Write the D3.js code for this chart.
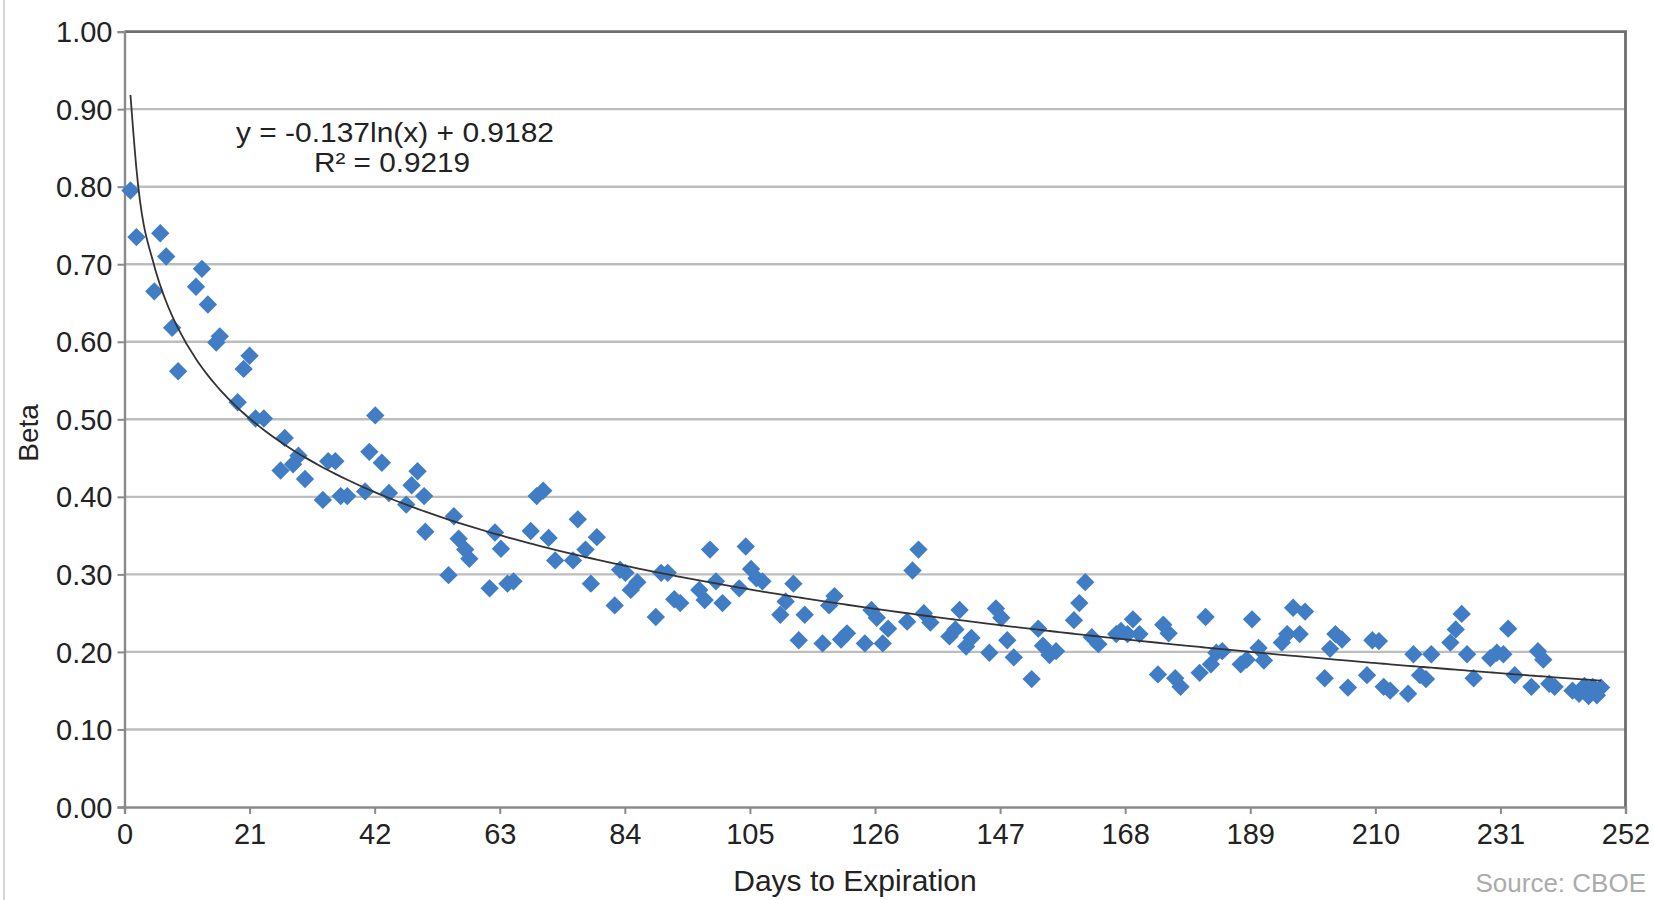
<!DOCTYPE html>
<html>
<head>
<meta charset="utf-8">
<script src="https://cdn.jsdelivr.net/npm/d3@7"></script>
<style>
    body { margin: 0; background: #fff; }
    text { font-family: "Liberation Sans", Arial, sans-serif; fill: #222; }
</style>
</head>
<body>
<svg id="chart" width="1654" height="900"></svg>
<script>
"use strict";

// days to expiration for each observation
var days = [
    1, 2, 5, 6, 7, 8, 9, 12, 13, 14, 15.4, 16, 19, 20, 21, 22, 23.4,
    26.2, 26.9, 28.3, 29.2, 30.3, 33.3, 34.2, 35.4, 36.3, 37.4, 40.4, 41.1, 42.1, 43.2, 44.4,
    47.3, 48.2, 49.2, 50.3, 50.5, 54.4, 55.3, 56.1, 57.2, 57.9, 61.3, 62.2, 63.2, 64.3, 65.3,
    68.2, 69.2, 70.3, 71.2, 72.3, 75.3, 76.1, 77.4, 78.3, 79.3, 82.3, 83.2, 84.1, 85, 86.1,
    89.2, 90.1, 91.2, 92.3, 93.3, 96.5, 97.4, 98.3, 99.3, 100.4, 103.2, 104.3, 105.2, 106.1, 107.1,
    110.1, 111, 112.3, 113.2, 114.2, 117.2, 118.3, 119.2, 120.3, 121.3, 124.3, 125.4, 126.3, 127.3, 128.2,
    131.4, 132.3, 133.3, 134.2, 135.3, 138.5, 139.5, 140.2, 141.3, 142.2, 145.2, 146.3, 147.2, 148.2, 149.3,
    152.3, 153.4, 154.2, 155.3, 156.4, 159.4, 160.3, 161.3, 162.4, 163.5, 166.5, 167.3, 168.4, 169.3, 170.4,
    173.5, 174.4, 175.3, 176.4, 177.3, 180.5, 181.5, 182.4, 183.3, 184.3, 187.4, 188.4, 189.3, 190.4, 191.3,
    194.3, 195.2, 196.2, 197.3, 198.2, 201.5, 202.4, 203.3, 204.4, 205.4, 208.6, 209.5, 210.6, 211.4, 212.5,
    215.5, 216.4, 217.5, 218.5, 219.4, 222.6, 223.5, 224.5, 225.4, 226.5, 229.3, 230.4, 231.5, 232.3, 233.4,
    236.2, 237.3, 238.2, 239.2, 240.1, 243.1, 244.2, 245.1, 245.8, 246.5, 247.2, 247.9
];

// beta observed at each of those days
var beta = [
    0.795, 0.735, 0.665, 0.740, 0.710, 0.618, 0.562, 0.671, 0.694, 0.648, 0.599, 0.607, 0.522, 0.565, 0.582, 0.501, 0.501,
    0.434, 0.476, 0.442, 0.453, 0.423, 0.396, 0.446, 0.446, 0.401, 0.401, 0.407, 0.458, 0.505, 0.444, 0.405,
    0.390, 0.415, 0.433, 0.401, 0.355, 0.299, 0.375, 0.346, 0.332, 0.320, 0.282, 0.354, 0.333, 0.288, 0.291,
    0.356, 0.401, 0.408, 0.347, 0.318, 0.318, 0.371, 0.332, 0.288, 0.348, 0.260, 0.306, 0.302, 0.280, 0.290,
    0.245, 0.302, 0.302, 0.268, 0.263, 0.280, 0.267, 0.332, 0.291, 0.263, 0.282, 0.336, 0.307, 0.295, 0.291,
    0.248, 0.265, 0.288, 0.215, 0.248, 0.211, 0.260, 0.272, 0.216, 0.224, 0.211, 0.254, 0.244, 0.211, 0.230,
    0.239, 0.305, 0.332, 0.250, 0.238, 0.220, 0.229, 0.254, 0.207, 0.218, 0.199, 0.256, 0.244, 0.215, 0.193,
    0.165, 0.230, 0.208, 0.196, 0.201, 0.241, 0.263, 0.290, 0.219, 0.210, 0.223, 0.227, 0.223, 0.242, 0.223,
    0.171, 0.235, 0.224, 0.166, 0.155, 0.173, 0.245, 0.184, 0.199, 0.201, 0.184, 0.190, 0.242, 0.205, 0.189,
    0.212, 0.223, 0.257, 0.223, 0.252, 0.166, 0.204, 0.223, 0.216, 0.154, 0.170, 0.215, 0.214, 0.155, 0.150,
    0.146, 0.197, 0.170, 0.165, 0.197, 0.212, 0.229, 0.249, 0.197, 0.166, 0.192, 0.199, 0.197, 0.230, 0.170,
    0.155, 0.201, 0.190, 0.159, 0.155, 0.150, 0.146, 0.156, 0.143, 0.155, 0.144, 0.154
];

var xTicks = [0, 21, 42, 63, 84, 105, 126, 147, 168, 189, 210, 231, 252];
var yTicks = [0, 0.1, 0.2, 0.3, 0.4, 0.5, 0.6, 0.7, 0.8, 0.9, 1.0];

// logarithmic trendline: y = a ln(x) + b
var trendA = -0.137;
var trendB = 0.9182;
var trendLabel = "y = -0.137ln(x) + 0.9182";
var r2Label = "R\u00b2 = 0.9219";

var svg = d3.select("#chart");
var margin = { left: 124.5, right: 28.5, top: 31.6, bottom: 93 };
var width = 1654 - margin.left - margin.right;
var height = 900 - margin.top - margin.bottom;

var x = d3.scaleLinear().domain([0, 252]).range([0, width]);
var y = d3.scaleLinear().domain([0, 1]).range([height, 0]);

// faint frame edge at the far left of the picture
svg.append("line")
    .attr("x1", 4).attr("x2", 4).attr("y1", 0).attr("y2", 900)
    .style("stroke", "#d8d8d8").style("stroke-width", 2);

var g = svg.append("g")
    .attr("transform", "translate(" + margin.left + "," + margin.top + ")");

// horizontal gridlines
g.append("g").selectAll("line")
    .data(yTicks.filter(function (d) { return d > 0 && d < 1; }))
    .enter().append("line")
    .attr("x1", 0).attr("x2", width)
    .attr("y1", function (d) { return y(d); })
    .attr("y2", function (d) { return y(d); })
    .style("stroke", "#bdbdbd").style("stroke-width", 2.4);

// top and right frame
g.append("path")
    .attr("d", "M0," + y(1) + "H" + x(252) + "V" + y(0))
    .style("fill", "none").style("stroke", "#6e6e6e").style("stroke-width", 2.8);

var yAxis = d3.axisLeft(y).tickValues(yTicks).tickSize(7).tickPadding(5)
    .tickFormat(d3.format(".2f"));
var gY = g.append("g").attr("class", "axis axis-y").call(yAxis);

var xAxis = d3.axisBottom(x).tickValues(xTicks).tickSize(7).tickPadding(9);
var gX = g.append("g").attr("class", "axis axis-x")
    .attr("transform", "translate(0," + height + ")")
    .call(xAxis);

[gX, gY].forEach(function (ax) {
    ax.select(".domain").style("stroke", "#8a8a8a").style("stroke-width", 2.4);
    ax.selectAll(".tick line").style("stroke", "#8a8a8a").style("stroke-width", 2);
    ax.selectAll(".tick text")
        .style("font-family", "'Liberation Sans', Arial, sans-serif")
        .style("font-size", "29px").style("fill", "#222");
});
gY.selectAll(".tick text").attr("dy", "0.35em");
gX.selectAll(".tick text").attr("dy", "0.72em");

// diamonds
var diamond = d3.symbol().type(d3.symbolDiamond2).size(215);
g.append("g").selectAll("path")
    .data(days.map(function (d, i) { return { day: d, value: beta[i] }; }))
    .enter().append("path")
    .attr("transform", function (d) {
        return "translate(" + x(d.day) + "," + y(d.value) + ")";
    })
    .attr("d", diamond)
    .style("fill", "#417dc4");

// trendline sampled over the observed day range
var line = d3.line()
    .x(function (d) { return x(d); })
    .y(function (d) { return y(trendA * Math.log(d) + trendB); })
    .curve(d3.curveMonotoneX);
g.append("path")
    .datum(days)
    .attr("d", line)
    .style("fill", "none").style("stroke", "#333").style("stroke-width", 1.8);

// equation labels (tightly stacked, as in the original)
svg.append("text")
    .attr("x", 395).attr("y", 142)
    .attr("text-anchor", "middle")
    .style("font-size", "28px")
    .attr("textLength", 318).attr("lengthAdjust", "spacingAndGlyphs")
    .text(trendLabel);
svg.append("text")
    .attr("x", 392).attr("y", 172)
    .attr("text-anchor", "middle")
    .style("font-size", "28px")
    .attr("textLength", 156).attr("lengthAdjust", "spacingAndGlyphs")
    .text(r2Label);

// axis titles
svg.append("text")
    .attr("x", 855)
    .attr("y", 891)
    .attr("text-anchor", "middle")
    .style("font-size", "30px")
    .text("Days to Expiration");
svg.append("text")
    .attr("transform", "translate(38,433) rotate(-90)")
    .attr("text-anchor", "middle")
    .style("font-size", "28px")
    .text("Beta");
svg.append("text")
    .attr("x", 1646).attr("y", 892)
    .attr("text-anchor", "end")
    .style("font-size", "26px")
    .style("fill", "#ababab")
    .text("Source: CBOE");
</script>
</body>
</html>
